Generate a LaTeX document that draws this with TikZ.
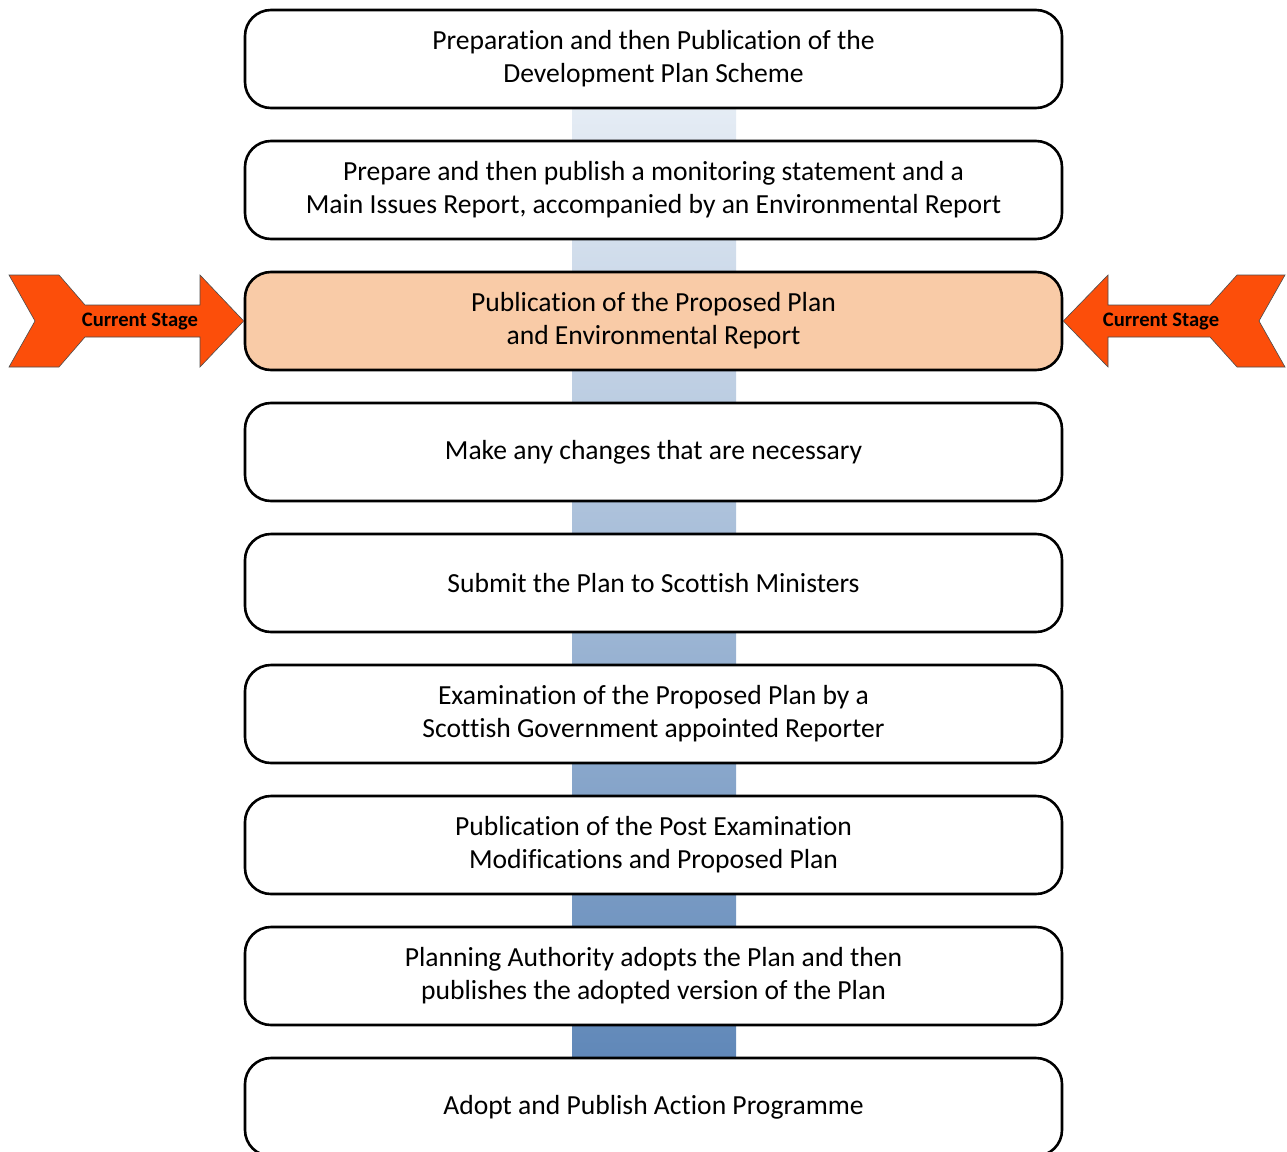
\documentclass[tikz,border=0pt]{standalone}
\usepackage{fontspec}
\setmainfont{Carlito}[Ligatures=NoCommon]
\usetikzlibrary{positioning}
\definecolor{hlfill}{RGB}{249,203,167}
\definecolor{arrfill}{RGB}{252,78,10}
\definecolor{bartop}{RGB}{230,237,245}
\definecolor{barbot}{RGB}{95,135,184}
\tikzset{
  stagebox/.style={draw=black, line width=2.6pt, rounded corners=26pt, fill=white,
    minimum width=817pt, minimum height=98pt, align=center, inner sep=0pt,
    font=\fontsize{27.6pt}{33pt}\selectfont},
  hlbox/.style={stagebox, fill=hlfill},
  arrowshape/.style={draw=black!70, line width=0.6pt, fill=arrfill},
  arrlabel/.style={font=\fontsize{20.6pt}{24pt}\selectfont\bfseries, inner sep=0pt}
}
\begin{document}
\begin{tikzpicture}[x=1pt,y=-1pt]
\useasboundingbox (0,0) rectangle (1287,1151);
\fill[white] (0,0) rectangle (1287,1151);
% gradient bar
\shade[top color=bartop, bottom color=barbot] (572,100) rectangle (736,1066);
% boxes
\node[stagebox] (b1) at (653.5,59) {Preparation and then Publication of the\\Development Plan Scheme};
\node[stagebox] (b2) at (653.5,190) {Prepare and then publish a monitoring statement and a\\Main Issues Report, accompanied by an Environmental Report};
\node[hlbox] (b3) at (653.5,321) {Publication of the Proposed Plan\\and Environmental Report};
\node[stagebox] (b4) at (653.5,452) {Make any changes that are necessary};
\node[stagebox] (b5) at (653.5,583) {Submit the Plan to Scottish Ministers};
\node[stagebox] (b6) at (653.5,714) {Examination of the Proposed Plan by a\\Scottish Government appointed Reporter};
\node[stagebox] (b7) at (653.5,845) {Publication of the Post Examination\\Modifications and Proposed Plan};
\node[stagebox] (b8) at (653.5,976) {Planning Authority adopts the Plan and then\\publishes the adopted version of the Plan};
\node[stagebox] (b9) at (653.5,1107) {Adopt and Publish Action Programme};
% left arrow
\draw[arrowshape] (9,275) -- (59,275) -- (85,305) -- (200,305) -- (200,275) -- (b3.west)
  -- (200,367) -- (200,337) -- (85,337) -- (59,367) -- (9,367) -- (35,321) -- cycle;
\node[arrlabel] (la) at (140,321) {Current Stage};
% right arrow
\draw[arrowshape] (1285,275) -- (1237,275) -- (1210,305) -- (1108,305) -- (1108,275) -- (b3.east)
  -- (1108,367) -- (1108,337) -- (1210,337) -- (1237,367) -- (1285,367) -- (1259,321) -- cycle;
\node[arrlabel] (ra) at (1161,321) {Current Stage};
\end{tikzpicture}
\end{document}
